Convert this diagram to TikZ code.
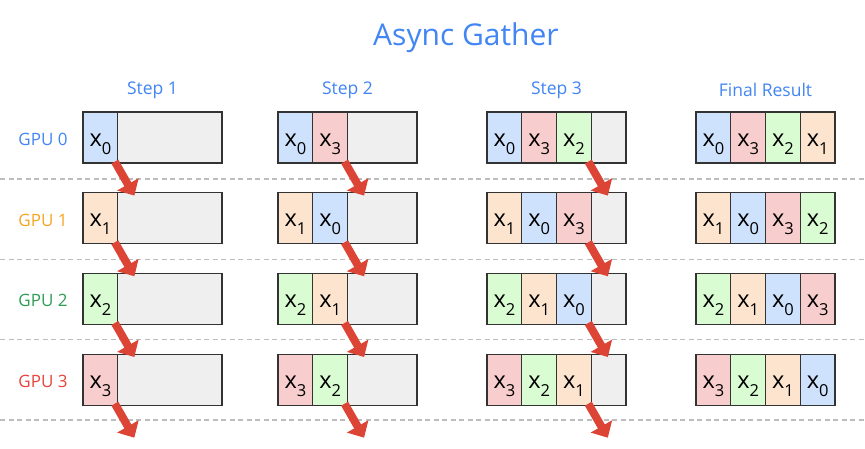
\documentclass[tikz,border=0pt]{standalone}
\usepackage{fontspec}
\setmainfont{Open Sans}
\usetikzlibrary{arrows.meta,calc}
\definecolor{gblue}{HTML}{4285F4}
\definecolor{gorange}{HTML}{F6A623}
\definecolor{ggreen}{HTML}{2E9E55}
\definecolor{gred}{HTML}{E8453C}
\definecolor{cell0}{HTML}{CFE2FD}
\definecolor{cell1}{HTML}{FCE4CE}
\definecolor{cell2}{HTML}{D9FCD2}
\definecolor{cell3}{HTML}{F8CDCD}
\definecolor{cellgray}{HTML}{EFEFEF}
\definecolor{arrowred}{HTML}{DC4535}
\definecolor{dashgray}{HTML}{BDBDBD}
\newcommand{\xsub}[1]{{\fontsize{23.5}{23.5}\selectfont x}\raisebox{-8pt}{\fontsize{16.5}{16.5}\selectfont #1}}
\begin{document}
\begin{tikzpicture}[x=1pt,y=-1pt,
  graybox/.style={draw=black!80,line width=1.2pt,fill=cellgray,minimum width=139pt,minimum height=51pt,inner sep=0pt},
  datacell/.style={draw=black!80,line width=1.2pt,minimum width=34.75pt,minimum height=51pt,inner sep=0pt,text=black,text height=17pt,text depth=0pt},
  gpulabel/.style={font=\fontsize{17}{17}\selectfont},
  steplabel/.style={font=\fontsize{17.5}{17.5}\selectfont,text=gblue},
  sep/.style={draw=dashgray,line width=1.3pt,dash pattern=on 5pt off 3.5pt},
  garrow/.style={draw=arrowred,line width=8pt,-{Triangle[width=24pt,length=13pt]}}]
\useasboundingbox (0,0) rectangle (865,448);
\fill[white] (0,0) rectangle (865,448);
\node[font=\fontsize{30}{30}\selectfont,text=gblue] (title) at (466,38) {Async Gather};
% separators
\foreach \k in {0,...,3}{
  \pgfmathsetmacro\yy{179+80.3*\k}
  \draw[sep] (0,\yy) -- (865,\yy);
}
% step labels
\node[steplabel] (s1) at (152.5,90) {Step 1};
\node[steplabel] (s2) at (347.5,90) {Step 2};
\node[steplabel] (s3) at (556.5,90) {Step 3};
\node[steplabel] (s4) at (765.5,90) {Final Result};
% gpu labels
\node[gpulabel,text=gblue] (g0) at (43,139.5) {GPU 0};
\node[gpulabel,text=gorange] (g1) at (43,220.2) {GPU 1};
\node[gpulabel,text=ggreen] (g2) at (43,300.9) {GPU 2};
\node[gpulabel,text=gred] (g3) at (43,381.6) {GPU 3};
% boxes
\foreach \c/\lx/\n in {0/83/1,1/278/2,2/487/3,3/696/4}{
  \foreach \r in {0,...,3}{
    \pgfmathsetmacro\top{112+80.7*\r}
    \pgfmathtruncatemacro\nm{\n-1}
    \node[graybox] (box-\c-\r) at (\lx+69.5,\top+25.5) {};
    \foreach \k in {0,...,\nm}{
      \pgfmathtruncatemacro\idx{mod(\r-\k+4,4)}
      \node[datacell,fill=cell\idx] (cell-\c-\r-\k) at (\lx+17.375+34.75*\k,\top+25.5) {\xsub{\idx}};
    }
  }
}
% arrows
\foreach \c/\nm in {0/0,1/1,2/2}{
  \foreach \r in {0,...,3}{
    \coordinate (tail-\c-\r) at ($(cell-\c-\r-\nm.south east)+(-3.5,-2)$);
    \coordinate (tip-\c-\r) at ($(cell-\c-\r-\nm.south east)+(16,32)$);
    \draw[garrow] (tail-\c-\r) -- (tip-\c-\r);
  }
}
\end{tikzpicture}
\end{document}
